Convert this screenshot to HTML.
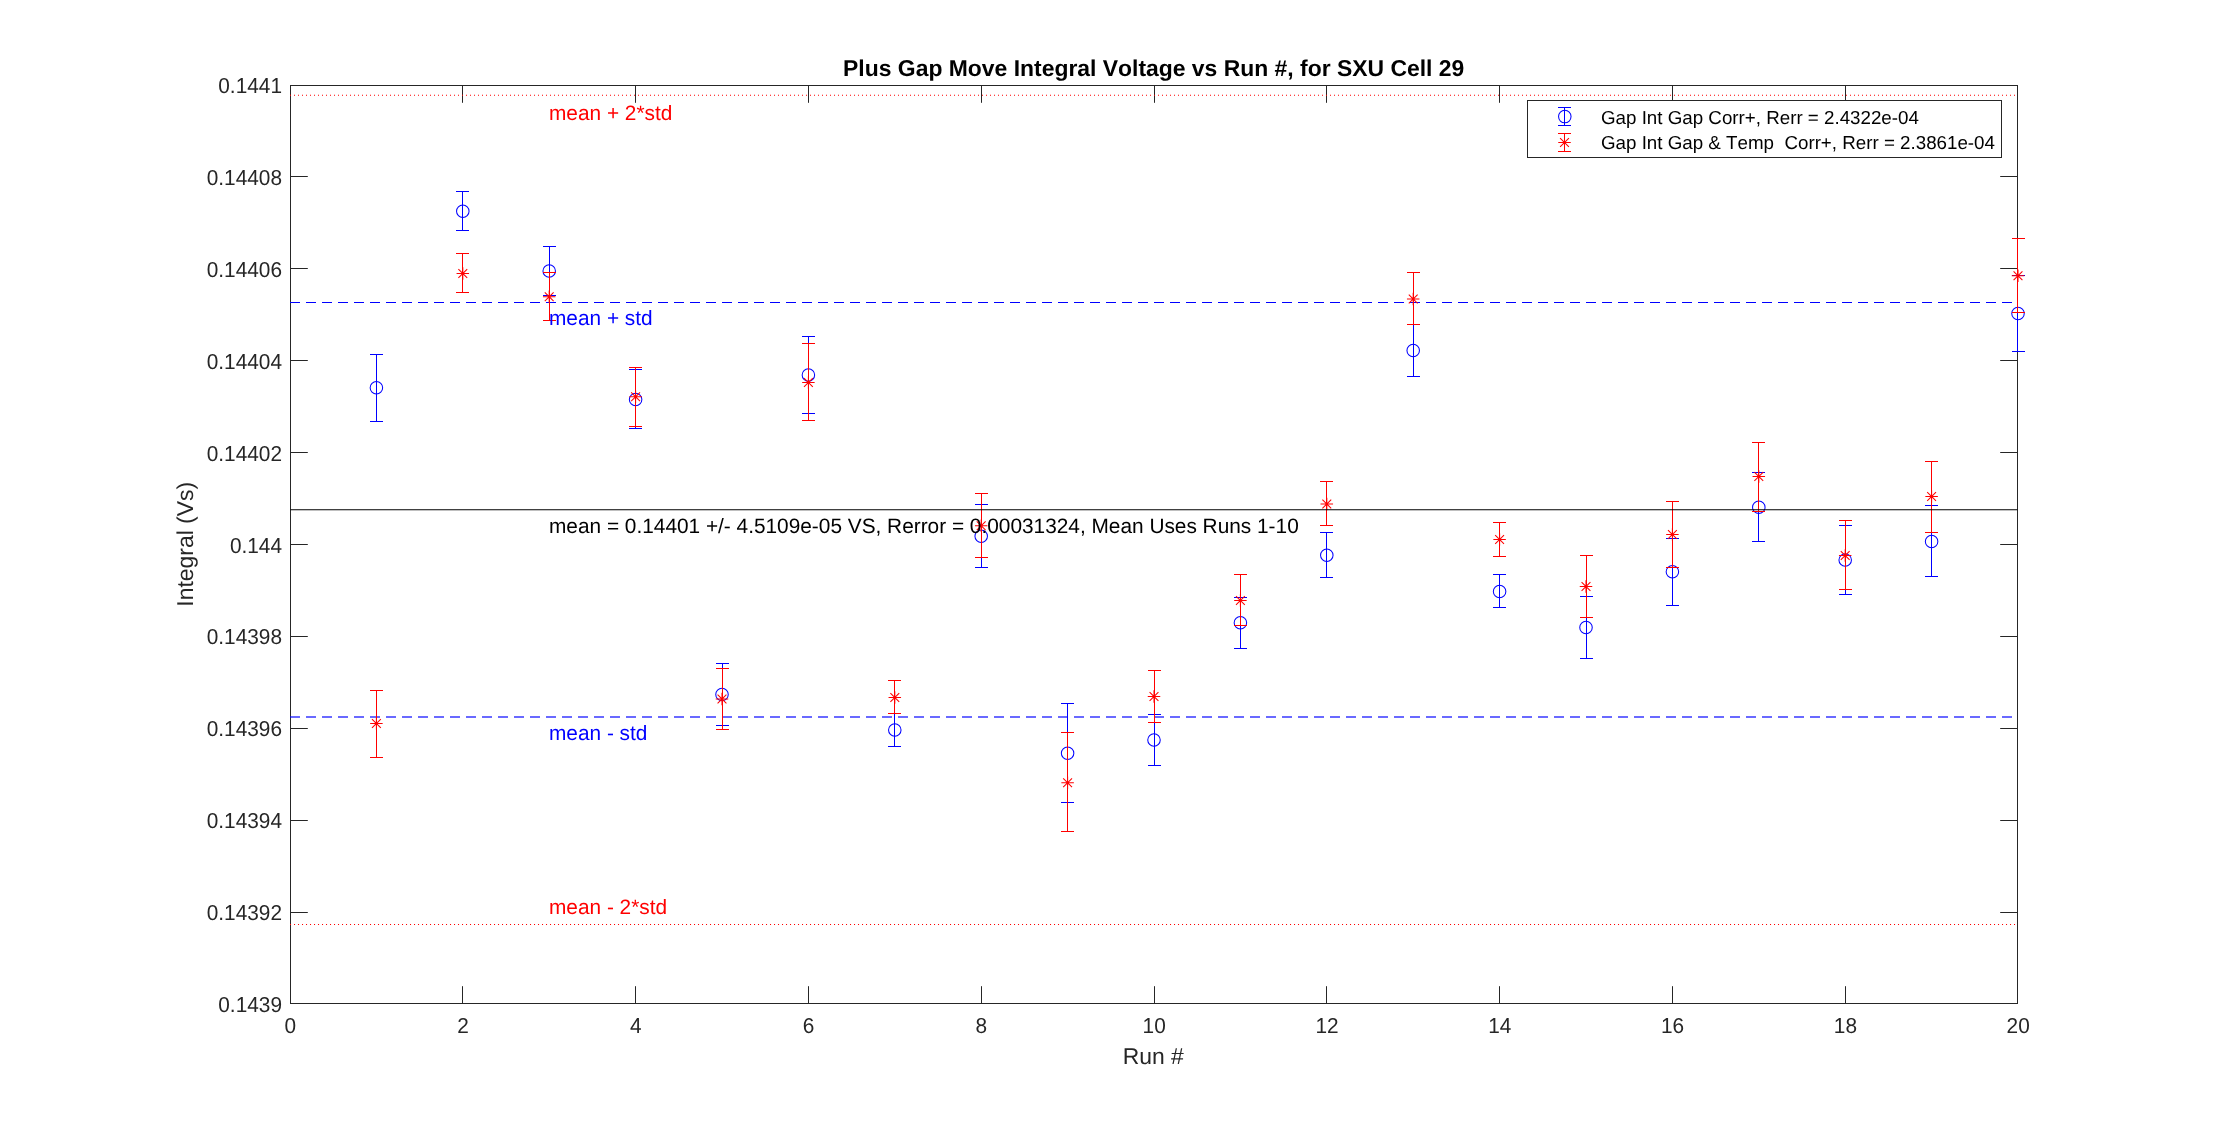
<!DOCTYPE html>
<html><head><meta charset="utf-8"><title>Plus Gap Move Integral Voltage</title>
<style>
html,body{margin:0;padding:0;background:#fff;}
body{width:2230px;height:1128px;overflow:hidden;}
svg{display:block;position:absolute;left:0;top:0;will-change:transform;}
text{font-family:"Liberation Sans",sans-serif;white-space:pre;font-kerning:none;font-variant-ligatures:none;text-rendering:geometricPrecision;}
</style></head><body>
<svg width="2230" height="1128" viewBox="0 0 2230 1128">
<rect x="0" y="0" width="2230" height="1128" fill="#ffffff"/>

<g stroke="#262626" stroke-width="1" fill="none">
<rect x="290.5" y="85.5" width="1727.0" height="918.0"/>
<path d="M462.5 1003.5v-17.3M462.5 85.5v17.3M635.5 1003.5v-17.3M635.5 85.5v17.3M808.5 1003.5v-17.3M808.5 85.5v17.3M981.5 1003.5v-17.3M981.5 85.5v17.3M1154.5 1003.5v-17.3M1154.5 85.5v17.3M1326.5 1003.5v-17.3M1326.5 85.5v17.3M1499.5 1003.5v-17.3M1499.5 85.5v17.3M1672.5 1003.5v-17.3M1672.5 85.5v17.3M1845.5 1003.5v-17.3M1845.5 85.5v17.3M290.5 176.5h17.3M2017.5 176.5h-17.3M290.5 268.5h17.3M2017.5 268.5h-17.3M290.5 360.5h17.3M2017.5 360.5h-17.3M290.5 452.5h17.3M2017.5 452.5h-17.3M290.5 544.5h17.3M2017.5 544.5h-17.3M290.5 636.5h17.3M2017.5 636.5h-17.3M290.5 728.5h17.3M2017.5 728.5h-17.3M290.5 820.5h17.3M2017.5 820.5h-17.3M290.5 912.5h17.3M2017.5 912.5h-17.3"/>
</g>
<text transform="translate(290.2 1033) scale(1 1.04)" font-size="20.83" text-anchor="middle" fill="#262626">0</text>
<text transform="translate(463.0 1033) scale(1 1.04)" font-size="20.83" text-anchor="middle" fill="#262626">2</text>
<text transform="translate(635.8 1033) scale(1 1.04)" font-size="20.83" text-anchor="middle" fill="#262626">4</text>
<text transform="translate(808.6 1033) scale(1 1.04)" font-size="20.83" text-anchor="middle" fill="#262626">6</text>
<text transform="translate(981.4 1033) scale(1 1.04)" font-size="20.83" text-anchor="middle" fill="#262626">8</text>
<text transform="translate(1154.2 1033) scale(1 1.04)" font-size="20.83" text-anchor="middle" fill="#262626">10</text>
<text transform="translate(1327.0 1033) scale(1 1.04)" font-size="20.83" text-anchor="middle" fill="#262626">12</text>
<text transform="translate(1499.8 1033) scale(1 1.04)" font-size="20.83" text-anchor="middle" fill="#262626">14</text>
<text transform="translate(1672.6 1033) scale(1 1.04)" font-size="20.83" text-anchor="middle" fill="#262626">16</text>
<text transform="translate(1845.4 1033) scale(1 1.04)" font-size="20.83" text-anchor="middle" fill="#262626">18</text>
<text transform="translate(2018.2 1033) scale(1 1.04)" font-size="20.83" text-anchor="middle" fill="#262626">20</text>
<text transform="translate(282 93.0) scale(1 1.04)" font-size="20.83" text-anchor="end" fill="#262626">0.1441</text>
<text transform="translate(282 184.9) scale(1 1.04)" font-size="20.83" text-anchor="end" fill="#262626">0.14408</text>
<text transform="translate(282 276.8) scale(1 1.04)" font-size="20.83" text-anchor="end" fill="#262626">0.14406</text>
<text transform="translate(282 368.7) scale(1 1.04)" font-size="20.83" text-anchor="end" fill="#262626">0.14404</text>
<text transform="translate(282 460.6) scale(1 1.04)" font-size="20.83" text-anchor="end" fill="#262626">0.14402</text>
<text transform="translate(282 552.5) scale(1 1.04)" font-size="20.83" text-anchor="end" fill="#262626">0.144</text>
<text transform="translate(282 644.4) scale(1 1.04)" font-size="20.83" text-anchor="end" fill="#262626">0.14398</text>
<text transform="translate(282 736.3) scale(1 1.04)" font-size="20.83" text-anchor="end" fill="#262626">0.14396</text>
<text transform="translate(282 828.2) scale(1 1.04)" font-size="20.83" text-anchor="end" fill="#262626">0.14394</text>
<text transform="translate(282 920.1) scale(1 1.04)" font-size="20.83" text-anchor="end" fill="#262626">0.14392</text>
<text transform="translate(282 1012.0) scale(1 1.04)" font-size="20.83" text-anchor="end" fill="#262626">0.1439</text>
<text x="1153.3" y="1064" font-size="22.92" text-anchor="middle" fill="#262626">Run #</text>
<text transform="translate(192.9 544.3) rotate(-90)" font-size="22.92" text-anchor="middle" fill="#262626">Integral (Vs)</text>
<text x="1153.7" y="76" font-size="22.92" text-anchor="middle" fill="#000" font-weight="bold">Plus Gap Move Integral Voltage vs Run #, for SXU Cell 29</text>
<g fill="none">
<line x1="290" x2="2017.5" y1="95.2" y2="95.2" stroke="#ff0000" stroke-width="1.04" stroke-dasharray="1.04 2.96"/>
<line x1="290" x2="2017.5" y1="924.5" y2="924.5" stroke="#ff0000" stroke-width="1.04" stroke-dasharray="1.04 2.96"/>
<line x1="290" x2="2012" y1="302.5" y2="302.5" stroke="#0000ff" stroke-width="1.04" stroke-dasharray="10 6"/>
<line x1="290" x2="2012" y1="717" y2="717" stroke="#0000ff" stroke-opacity="0.59" stroke-width="2" stroke-dasharray="10 6" shape-rendering="crispEdges"/>
</g>
<g id="blue">
<path d="M376.5 354.0V422.0M370.0 354.5H383.0M370.0 421.5H383.0" stroke="#0000ff" stroke-width="1" fill="none"/><circle cx="376.4" cy="387.75" r="6.25" stroke="#0000ff" stroke-width="1.04" fill="none"/>
<path d="M462.5 191.0V231.0M456.0 191.5H469.0M456.0 230.5H469.0" stroke="#0000ff" stroke-width="1" fill="none"/><circle cx="462.8" cy="211.25" r="6.25" stroke="#0000ff" stroke-width="1.04" fill="none"/>
<path d="M549.5 246.0V296.0M543.0 246.5H556.0M543.0 295.5H556.0" stroke="#0000ff" stroke-width="1" fill="none"/><circle cx="549.2" cy="271" r="6.25" stroke="#0000ff" stroke-width="1.04" fill="none"/>
<path d="M635.5 369.0V429.0M629.0 369.5H642.0M629.0 428.5H642.0" stroke="#0000ff" stroke-width="1" fill="none"/><circle cx="635.6" cy="399.5" r="6.25" stroke="#0000ff" stroke-width="1.04" fill="none"/>
<path d="M722.5 663.0V726.0M716.0 663.5H729.0M716.0 725.5H729.0" stroke="#0000ff" stroke-width="1" fill="none"/><circle cx="722.0" cy="694.5" r="6.25" stroke="#0000ff" stroke-width="1.04" fill="none"/>
<path d="M808.5 336.0V414.0M802.0 336.5H815.0M802.0 413.5H815.0" stroke="#0000ff" stroke-width="1" fill="none"/><circle cx="808.4" cy="375" r="6.25" stroke="#0000ff" stroke-width="1.04" fill="none"/>
<path d="M894.5 713.0V747.0M888.0 713.5H901.0M888.0 746.5H901.0" stroke="#0000ff" stroke-width="1" fill="none"/><circle cx="894.8" cy="730" r="6.25" stroke="#0000ff" stroke-width="1.04" fill="none"/>
<path d="M981.5 504.0V568.0M975.0 504.5H988.0M975.0 567.5H988.0" stroke="#0000ff" stroke-width="1" fill="none"/><circle cx="981.2" cy="536.25" r="6.25" stroke="#0000ff" stroke-width="1.04" fill="none"/>
<path d="M1067.5 703.0V803.0M1061.0 703.5H1074.0M1061.0 802.5H1074.0" stroke="#0000ff" stroke-width="1" fill="none"/><circle cx="1067.6" cy="753.25" r="6.25" stroke="#0000ff" stroke-width="1.04" fill="none"/>
<path d="M1154.5 714.0V766.0M1148.0 714.5H1161.0M1148.0 765.5H1161.0" stroke="#0000ff" stroke-width="1" fill="none"/><circle cx="1154.0" cy="740" r="6.25" stroke="#0000ff" stroke-width="1.04" fill="none"/>
<path d="M1240.5 597.0V649.0M1234.0 597.5H1247.0M1234.0 648.5H1247.0" stroke="#0000ff" stroke-width="1" fill="none"/><circle cx="1240.4" cy="622.75" r="6.25" stroke="#0000ff" stroke-width="1.04" fill="none"/>
<path d="M1326.5 532.0V578.0M1320.0 532.5H1333.0M1320.0 577.5H1333.0" stroke="#0000ff" stroke-width="1" fill="none"/><circle cx="1326.8" cy="555.25" r="6.25" stroke="#0000ff" stroke-width="1.04" fill="none"/>
<path d="M1413.5 324.0V377.0M1407.0 324.5H1420.0M1407.0 376.5H1420.0" stroke="#0000ff" stroke-width="1" fill="none"/><circle cx="1413.2" cy="350.5" r="6.25" stroke="#0000ff" stroke-width="1.04" fill="none"/>
<path d="M1499.5 574.0V608.0M1493.0 574.5H1506.0M1493.0 607.5H1506.0" stroke="#0000ff" stroke-width="1" fill="none"/><circle cx="1499.6" cy="591.5" r="6.25" stroke="#0000ff" stroke-width="1.04" fill="none"/>
<path d="M1586.5 596.0V659.0M1580.0 596.5H1593.0M1580.0 658.5H1593.0" stroke="#0000ff" stroke-width="1" fill="none"/><circle cx="1586.0" cy="627.5" r="6.25" stroke="#0000ff" stroke-width="1.04" fill="none"/>
<path d="M1672.5 538.0V606.0M1666.0 538.5H1679.0M1666.0 605.5H1679.0" stroke="#0000ff" stroke-width="1" fill="none"/><circle cx="1672.4" cy="571.75" r="6.25" stroke="#0000ff" stroke-width="1.04" fill="none"/>
<path d="M1758.5 472.0V542.0M1752.0 472.5H1765.0M1752.0 541.5H1765.0" stroke="#0000ff" stroke-width="1" fill="none"/><circle cx="1758.8" cy="507.25" r="6.25" stroke="#0000ff" stroke-width="1.04" fill="none"/>
<path d="M1845.5 525.0V595.0M1839.0 525.5H1852.0M1839.0 594.5H1852.0" stroke="#0000ff" stroke-width="1" fill="none"/><circle cx="1845.2" cy="560" r="6.25" stroke="#0000ff" stroke-width="1.04" fill="none"/>
<path d="M1931.5 505.0V577.0M1925.0 505.5H1938.0M1925.0 576.5H1938.0" stroke="#0000ff" stroke-width="1" fill="none"/><circle cx="1931.6" cy="541.5" r="6.25" stroke="#0000ff" stroke-width="1.04" fill="none"/>
<path d="M2017.5 275.0V352.0M2012.0 275.5H2025.0M2012.0 351.5H2025.0" stroke="#0000ff" stroke-width="1" fill="none"/><circle cx="2018.0" cy="313.5" r="6.25" stroke="#0000ff" stroke-width="1.04" fill="none"/>
</g><g id="red">
<path d="M376.5 690.0V758.0M370.0 690.5H383.0M370.0 757.5H383.0" stroke="#ff0000" stroke-width="1" fill="none"/><path d="M370.15 723.5H382.65M376.4 717.25V729.75M371.98 719.08L380.82 727.92M371.98 727.92L380.82 719.08" stroke="#ff0000" stroke-width="1.04" fill="none"/>
<path d="M462.5 253.0V293.0M456.0 253.5H469.0M456.0 292.5H469.0" stroke="#ff0000" stroke-width="1" fill="none"/><path d="M456.55 273.5H469.05M462.8 267.25V279.75M458.38 269.08L467.22 277.92M458.38 277.92L467.22 269.08" stroke="#ff0000" stroke-width="1.04" fill="none"/>
<path d="M549.5 272.0V321.0M543.0 272.5H556.0M543.0 320.5H556.0" stroke="#ff0000" stroke-width="1" fill="none"/><path d="M542.95 296.75H555.45M549.2 290.50V303.00M544.78 292.33L553.62 301.17M544.78 301.17L553.62 292.33" stroke="#ff0000" stroke-width="1.04" fill="none"/>
<path d="M635.5 367.0V427.0M629.0 367.5H642.0M629.0 426.5H642.0" stroke="#ff0000" stroke-width="1" fill="none"/><path d="M629.35 396.75H641.85M635.6 390.50V403.00M631.18 392.33L640.02 401.17M631.18 401.17L640.02 392.33" stroke="#ff0000" stroke-width="1.04" fill="none"/>
<path d="M722.5 668.0V730.0M716.0 668.5H729.0M716.0 729.5H729.0" stroke="#ff0000" stroke-width="1" fill="none"/><path d="M715.75 699H728.25M722.0 692.75V705.25M717.58 694.58L726.42 703.42M717.58 703.42L726.42 694.58" stroke="#ff0000" stroke-width="1.04" fill="none"/>
<path d="M808.5 343.0V421.0M802.0 343.5H815.0M802.0 420.5H815.0" stroke="#ff0000" stroke-width="1" fill="none"/><path d="M802.15 382.5H814.65M808.4 376.25V388.75M803.98 378.08L812.82 386.92M803.98 386.92L812.82 378.08" stroke="#ff0000" stroke-width="1.04" fill="none"/>
<path d="M894.5 680.0V714.0M888.0 680.5H901.0M888.0 713.5H901.0" stroke="#ff0000" stroke-width="1" fill="none"/><path d="M888.55 697.5H901.05M894.8 691.25V703.75M890.38 693.08L899.22 701.92M890.38 701.92L899.22 693.08" stroke="#ff0000" stroke-width="1.04" fill="none"/>
<path d="M981.5 493.0V558.0M975.0 493.5H988.0M975.0 557.5H988.0" stroke="#ff0000" stroke-width="1" fill="none"/><path d="M974.95 525.75H987.45M981.2 519.50V532.00M976.78 521.33L985.62 530.17M976.78 530.17L985.62 521.33" stroke="#ff0000" stroke-width="1.04" fill="none"/>
<path d="M1067.5 732.0V832.0M1061.0 732.5H1074.0M1061.0 831.5H1074.0" stroke="#ff0000" stroke-width="1" fill="none"/><path d="M1061.35 782.75H1073.85M1067.6 776.50V789.00M1063.18 778.33L1072.02 787.17M1063.18 787.17L1072.02 778.33" stroke="#ff0000" stroke-width="1.04" fill="none"/>
<path d="M1154.5 670.0V723.0M1148.0 670.5H1161.0M1148.0 722.5H1161.0" stroke="#ff0000" stroke-width="1" fill="none"/><path d="M1147.75 696.5H1160.25M1154.0 690.25V702.75M1149.58 692.08L1158.42 700.92M1149.58 700.92L1158.42 692.08" stroke="#ff0000" stroke-width="1.04" fill="none"/>
<path d="M1240.5 574.0V626.0M1234.0 574.5H1247.0M1234.0 625.5H1247.0" stroke="#ff0000" stroke-width="1" fill="none"/><path d="M1234.15 600.5H1246.65M1240.4 594.25V606.75M1235.98 596.08L1244.82 604.92M1235.98 604.92L1244.82 596.08" stroke="#ff0000" stroke-width="1.04" fill="none"/>
<path d="M1326.5 481.0V526.0M1320.0 481.5H1333.0M1320.0 525.5H1333.0" stroke="#ff0000" stroke-width="1" fill="none"/><path d="M1320.55 504H1333.05M1326.8 497.75V510.25M1322.38 499.58L1331.22 508.42M1322.38 508.42L1331.22 499.58" stroke="#ff0000" stroke-width="1.04" fill="none"/>
<path d="M1413.5 272.0V325.0M1407.0 272.5H1420.0M1407.0 324.5H1420.0" stroke="#ff0000" stroke-width="1" fill="none"/><path d="M1406.95 299H1419.45M1413.2 292.75V305.25M1408.78 294.58L1417.62 303.42M1408.78 303.42L1417.62 294.58" stroke="#ff0000" stroke-width="1.04" fill="none"/>
<path d="M1499.5 522.0V557.0M1493.0 522.5H1506.0M1493.0 556.5H1506.0" stroke="#ff0000" stroke-width="1" fill="none"/><path d="M1493.35 539.5H1505.85M1499.6 533.25V545.75M1495.18 535.08L1504.02 543.92M1495.18 543.92L1504.02 535.08" stroke="#ff0000" stroke-width="1.04" fill="none"/>
<path d="M1586.5 555.0V618.0M1580.0 555.5H1593.0M1580.0 617.5H1593.0" stroke="#ff0000" stroke-width="1" fill="none"/><path d="M1579.75 586.5H1592.25M1586.0 580.25V592.75M1581.58 582.08L1590.42 590.92M1581.58 590.92L1590.42 582.08" stroke="#ff0000" stroke-width="1.04" fill="none"/>
<path d="M1672.5 501.0V568.0M1666.0 501.5H1679.0M1666.0 567.5H1679.0" stroke="#ff0000" stroke-width="1" fill="none"/><path d="M1666.15 534.5H1678.65M1672.4 528.25V540.75M1667.98 530.08L1676.82 538.92M1667.98 538.92L1676.82 530.08" stroke="#ff0000" stroke-width="1.04" fill="none"/>
<path d="M1758.5 442.0V512.0M1752.0 442.5H1765.0M1752.0 511.5H1765.0" stroke="#ff0000" stroke-width="1" fill="none"/><path d="M1752.55 476.5H1765.05M1758.8 470.25V482.75M1754.38 472.08L1763.22 480.92M1754.38 480.92L1763.22 472.08" stroke="#ff0000" stroke-width="1.04" fill="none"/>
<path d="M1845.5 520.0V590.0M1839.0 520.5H1852.0M1839.0 589.5H1852.0" stroke="#ff0000" stroke-width="1" fill="none"/><path d="M1838.95 555.5H1851.45M1845.2 549.25V561.75M1840.78 551.08L1849.62 559.92M1840.78 559.92L1849.62 551.08" stroke="#ff0000" stroke-width="1.04" fill="none"/>
<path d="M1931.5 461.0V533.0M1925.0 461.5H1938.0M1925.0 532.5H1938.0" stroke="#ff0000" stroke-width="1" fill="none"/><path d="M1925.35 496.5H1937.85M1931.6 490.25V502.75M1927.18 492.08L1936.02 500.92M1927.18 500.92L1936.02 492.08" stroke="#ff0000" stroke-width="1.04" fill="none"/>
<path d="M2017.5 238.0V313.0M2012.0 238.5H2025.0M2012.0 312.5H2025.0" stroke="#ff0000" stroke-width="1" fill="none"/><path d="M2011.75 275.75H2024.25M2018.0 269.50V282.00M2013.58 271.33L2022.42 280.17M2013.58 280.17L2022.42 271.33" stroke="#ff0000" stroke-width="1.04" fill="none"/>
</g>
<line x1="290.5" x2="2017.5" y1="509.75" y2="509.75" stroke="#000" stroke-width="1.04"/>
<text x="549" y="119.5" font-size="20.83" text-anchor="start" fill="#ff0000">mean + 2*std</text>
<text x="549" y="325" font-size="20.83" text-anchor="start" fill="#0000ff">mean + std</text>
<text x="549" y="532.5" font-size="20.83" text-anchor="start" fill="#000">mean = 0.14401 +/- 4.5109e-05 VS, Rerror = 0.00031324, Mean Uses Runs 1-10</text>
<text x="549" y="739.5" font-size="20.83" text-anchor="start" fill="#0000ff">mean - std</text>
<text x="549" y="913.8" font-size="20.83" text-anchor="start" fill="#ff0000">mean - 2*std</text>
<rect x="1527.5" y="100.5" width="474" height="57" fill="#fff" stroke="#262626" stroke-width="1"/>
<path d="M1564.5 107.0V126.0M1558.0 107.5H1571.0M1558.0 125.5H1571.0" stroke="#0000ff" stroke-width="1" fill="none"/><circle cx="1564.8" cy="116.6" r="6.25" stroke="#0000ff" stroke-width="1.04" fill="none"/>
<path d="M1564.5 133.0V152.0M1558.0 133.5H1571.0M1558.0 151.5H1571.0" stroke="#ff0000" stroke-width="1" fill="none"/><path d="M1558.25 142.5H1570.75M1564.5 136.25V148.75M1560.08 138.08L1568.92 146.92M1560.08 146.92L1568.92 138.08" stroke="#ff0000" stroke-width="1.04" fill="none"/>
<text x="1601" y="124" font-size="18.75" text-anchor="start" fill="#000">Gap Int Gap Corr+, Rerr = 2.4322e-04</text>
<text x="1601" y="148.5" font-size="18.75" text-anchor="start" fill="#000">Gap Int Gap &amp; Temp&#160; Corr+, Rerr = 2.3861e-04</text>
</svg></body></html>
